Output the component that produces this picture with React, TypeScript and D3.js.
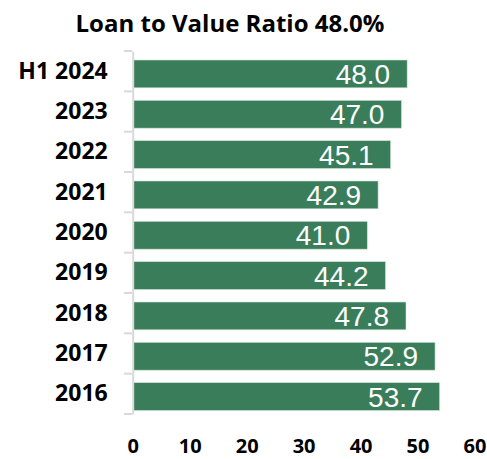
import React, { useEffect, useRef } from 'react';
import * as d3 from 'd3';

// categories top to bottom
const categories = ['H1 2024', '2023', '2022', '2021', '2020', '2019', '2018', '2017', '2016'];
const ltvValues = [48.0, 47.0, 45.1, 42.9, 41.0, 44.2, 47.8, 52.9, 53.7];
const xTicks = [0, 10, 20, 30, 40, 50, 60];
const title = 'Loan to Value Ratio 48.0%';

export default function App() {
  const svgRef = useRef<SVGSVGElement>(null);

  useEffect(() => {
    const svg = d3.select(svgRef.current);
    svg.selectAll('*').remove();

    const width = 487;
    const height = 459;

    const x = d3.scaleLinear().domain([0, 60]).range([133.7, 475.5]);
    // category bands (tick to tick)
    const y = d3.scaleBand<string>()
      .domain(categories)
      .range([51, 414])
      .padding(0);
    const barH = y.bandwidth() * 0.69;
    const barOff = 9; // excel puts the bar a bit low in its slot

    svg.attr('width', width).attr('height', height);

    // title
    svg.append('text')
      .attr('x', 230)
      .attr('y', 32)
      .attr('text-anchor', 'middle')
      .attr('font-family', '"Open Sans", sans-serif')
      .attr('font-weight', 700)
      .attr('font-size', 24)
      .attr('fill', '#000')
      .text(title);

    // bars
    svg.selectAll('.bar')
      .data(categories)
      .enter()
      .append('rect')
      .attr('class', 'bar')
      .attr('x', x(0))
      .attr('y', d => y(d)! + barOff)
      .attr('width', (d, i) => x(ltvValues[i]) - x(0))
      .attr('height', barH)
      .attr('fill', '#3a7d5a')
      .attr('stroke', '#cfe3d6')
      .attr('stroke-width', 0.6);

    // value labels
    svg.selectAll('.lbl')
      .data(categories)
      .enter()
      .append('text')
      .attr('class', 'lbl')
      .attr('x', (d, i) => x(ltvValues[i]) - 17)
      .attr('y', d => y(d)! + barOff + barH / 2 + 10)
      .attr('text-anchor', 'end')
      .attr('font-family', '"Liberation Sans", Arial, sans-serif')
      .attr('font-size', 28)
      .attr('fill', '#fff')
      .text((d, i) => ltvValues[i].toFixed(1));

    // category axis (left)
    const yAxis = svg.append('g')
      .attr('transform', 'translate(132.7,0)')
      .call(d3.axisLeft(y).tickSize(0).tickPadding(25));
    yAxis.select('.domain').attr('stroke', '#d9d9d9').attr('stroke-width', 2);
    yAxis.selectAll('text')
      .attr('font-family', '"Open Sans", sans-serif')
      .attr('font-weight', 700)
      .attr('font-size', 23)
      .attr('fill', '#000');

    // tick marks between categories
    const bounds = categories.map(c => y(c)!).concat([y.range()[1]]);
    svg.selectAll('.sep')
      .data(bounds)
      .enter()
      .append('line')
      .attr('x1', 124)
      .attr('x2', 132)
      .attr('y1', d => d)
      .attr('y2', d => d)
      .attr('stroke', '#d9d9d9')
      .attr('stroke-width', 2);

    // value axis (bottom, no line)
    const xAxis = svg.append('g')
      .attr('transform', 'translate(-1,438.5)')
      .call(d3.axisBottom(x).tickValues(xTicks).tickSize(0).tickPadding(0));
    xAxis.select('.domain').remove();
    xAxis.selectAll('text')
      .attr('dy', '0.71em')
      .attr('font-family', '"Open Sans", sans-serif')
      .attr('font-weight', 700)
      .attr('font-size', 20)
      .attr('fill', '#000');
  }, []);

  return (
    <svg ref={svgRef} style={{ position: 'absolute', left: 0, top: 0, background: '#fff' }}></svg>
  );
}
